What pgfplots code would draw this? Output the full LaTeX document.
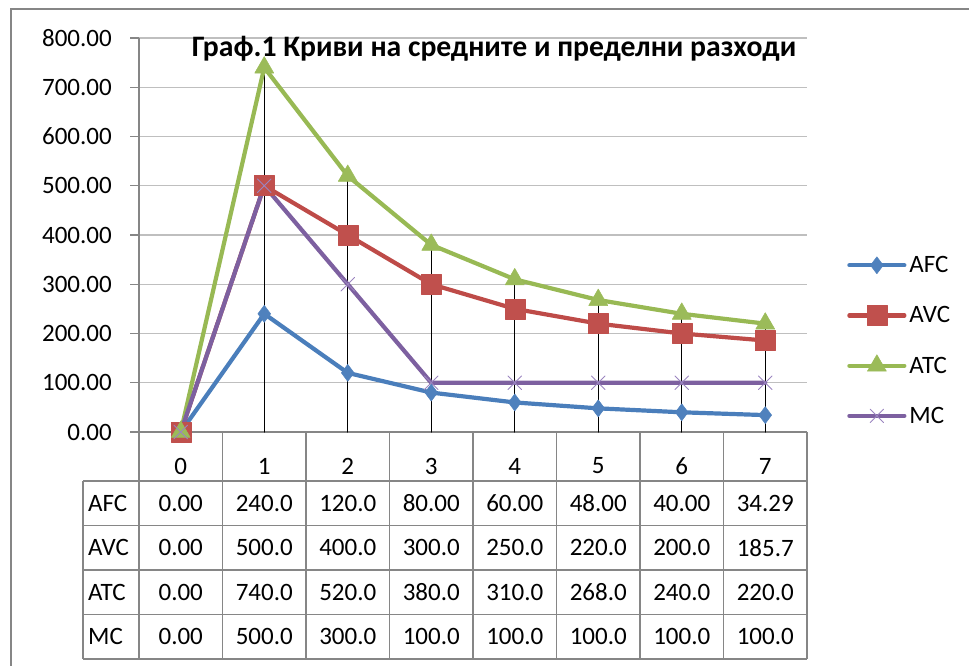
\documentclass[border=0pt]{standalone}
\usepackage{pgfplots}
\pgfplotsset{compat=1.18}
\usepackage{fontspec}
\setmainfont{Carlito}
\newcommand\fs{\fontsize{25}{30}\selectfont}
\newcommand\tfs{\fontsize{29.7}{35}\selectfont\bfseries}

\definecolor{afc}{HTML}{4A7EBB}
\definecolor{afcm}{HTML}{4F81BD}
\definecolor{avc}{HTML}{BE4B48}
\definecolor{avcm}{HTML}{C0504D}
\definecolor{atc}{HTML}{98B954}
\definecolor{atcm}{HTML}{9BBB59}
\definecolor{mc}{HTML}{7D60A0}
\definecolor{mcm}{HTML}{9B85C0}
\definecolor{grid}{HTML}{868686}

\begin{document}
\begin{tikzpicture}
\useasboundingbox (0pt,0pt) rectangle (969pt,666pt);

% chart area border (only top and left visible)
\draw[grid, line width=2.5pt] (11pt,0pt) -- (11pt,657pt) -- (969pt,657pt);

\begin{axis}[
    at={(139pt,234pt)}, anchor=south west,
    width=668pt, height=394pt, scale only axis,
    clip=false,
    xmin=-0.5, xmax=7.5,
    ymin=0, ymax=800,
    ytick={0,100,...,800},
    xtick={0,...,7},
    xticklabels={0,1,2,3,4,5,6,7},
    axis x line*=bottom, axis y line*=left,
    axis line style={grid, line width=1.6pt, -},
    xmajorgrids=false, ymajorgrids=true,
    grid style={grid, line width=1.4pt},
    x tick style={draw=none},
    y tick style={grid, line width=1.4pt},
    tick align=outside, major tick length=9pt,
    tick label style={font=\fs},
    yticklabel style={/pgf/number format/.cd, fixed, fixed zerofill, precision=2,
        assume math mode=true, /tikz/.cd, anchor=east, inner sep=0pt, xshift=-18pt},
    xticklabel style={anchor=center, inner sep=0pt, yshift=-25pt},
    legend style={draw=none, fill=none, font=\fs, at={(1.06,0.232)}, anchor=west,
        inner sep=0pt, row sep=22pt, nodes={inner sep=0pt},
        /tikz/every odd column/.append style={column sep=3pt}},
    legend cell align=left,
    legend image code/.code={
        \path (0pt,-12pt) (0pt,12pt);
        \draw[mark repeat=2, mark phase=2, #1]
            plot coordinates {(0pt,0pt) (27.5pt,0pt) (55pt,0pt)};},
    every axis plot/.append style={line width=4.2pt, line join=round, line cap=round},
]
% drop lines
\addplot[ycomb, black, line width=1.3pt, no marks, forget plot]
    coordinates {(0,0) (1,740) (2,520) (3,380) (4,310) (5,268) (6,240) (7,220)};

\addplot[afc, mark=diamond*, mark size=8.5pt, mark options={fill=afcm, draw=afcm, line width=0.5pt}]
    coordinates {(0,0) (1,240) (2,120) (3,80) (4,60) (5,48) (6,40) (7,34.29)};
\addplot[avc, mark=square*, mark size=10pt, mark options={fill=avcm, draw=avcm, line width=0.5pt}]
    coordinates {(0,0) (1,500) (2,400) (3,300) (4,250) (5,220) (6,200) (7,185.71)};
\addplot[atc, mark=triangle*, mark size=11pt, mark options={fill=atcm, draw=atcm, line width=0.5pt}]
    coordinates {(0,0) (1,740) (2,520) (3,380) (4,310) (5,268) (6,240) (7,220)};
\addplot[mc, mark=x, mark size=9.5pt, mark options={draw=mcm, line width=1pt}]
    coordinates {(0,0) (1,500) (2,300) (3,100) (4,100) (5,100) (6,100) (7,100)};
\legend{AFC,AVC,ATC,MC}
\end{axis}

\begin{scope}[x=1pt, y=-1pt, shift={(0pt,666pt)}]
  % title
  \node[anchor=base, inner sep=0pt, font=\tfs] at (494,57)
    {Граф.1 Криви на средните и пределни разходи};
  % data table grid
  \foreach \yy in {481,525.5,570,614.5,659}
    \draw[grid, line width=1.4pt] (83,\yy) -- (807,\yy);
  \draw[grid, line width=1.4pt] (83,481) -- (83,659);
  \foreach \k in {0,...,8}
    \draw[grid, line width=1.4pt] (139+\k*83.5,432) -- (139+\k*83.5,659);
  % row labels and values
  \foreach \lab/\yy/\vals in {
      AFC/503.25/{0.00,240.0,120.0,80.00,60.00,48.00,40.00,34.29},
      AVC/547.75/{0.00,500.0,400.0,300.0,250.0,220.0,200.0,185.7},
      ATC/592.25/{0.00,740.0,520.0,380.0,310.0,268.0,240.0,220.0},
      MC/636.75/{0.00,500.0,300.0,100.0,100.0,100.0,100.0,100.0}} {
    \node[anchor=west, inner sep=0pt, font=\fs] at (88,\yy) {\lab};
    \foreach \v [count=\i from 0] in \vals
      \node[anchor=center, inner sep=0pt, font=\fs] at (180.75+\i*83.5,\yy) {\v};
  }
\end{scope}
\end{tikzpicture}
\end{document}
